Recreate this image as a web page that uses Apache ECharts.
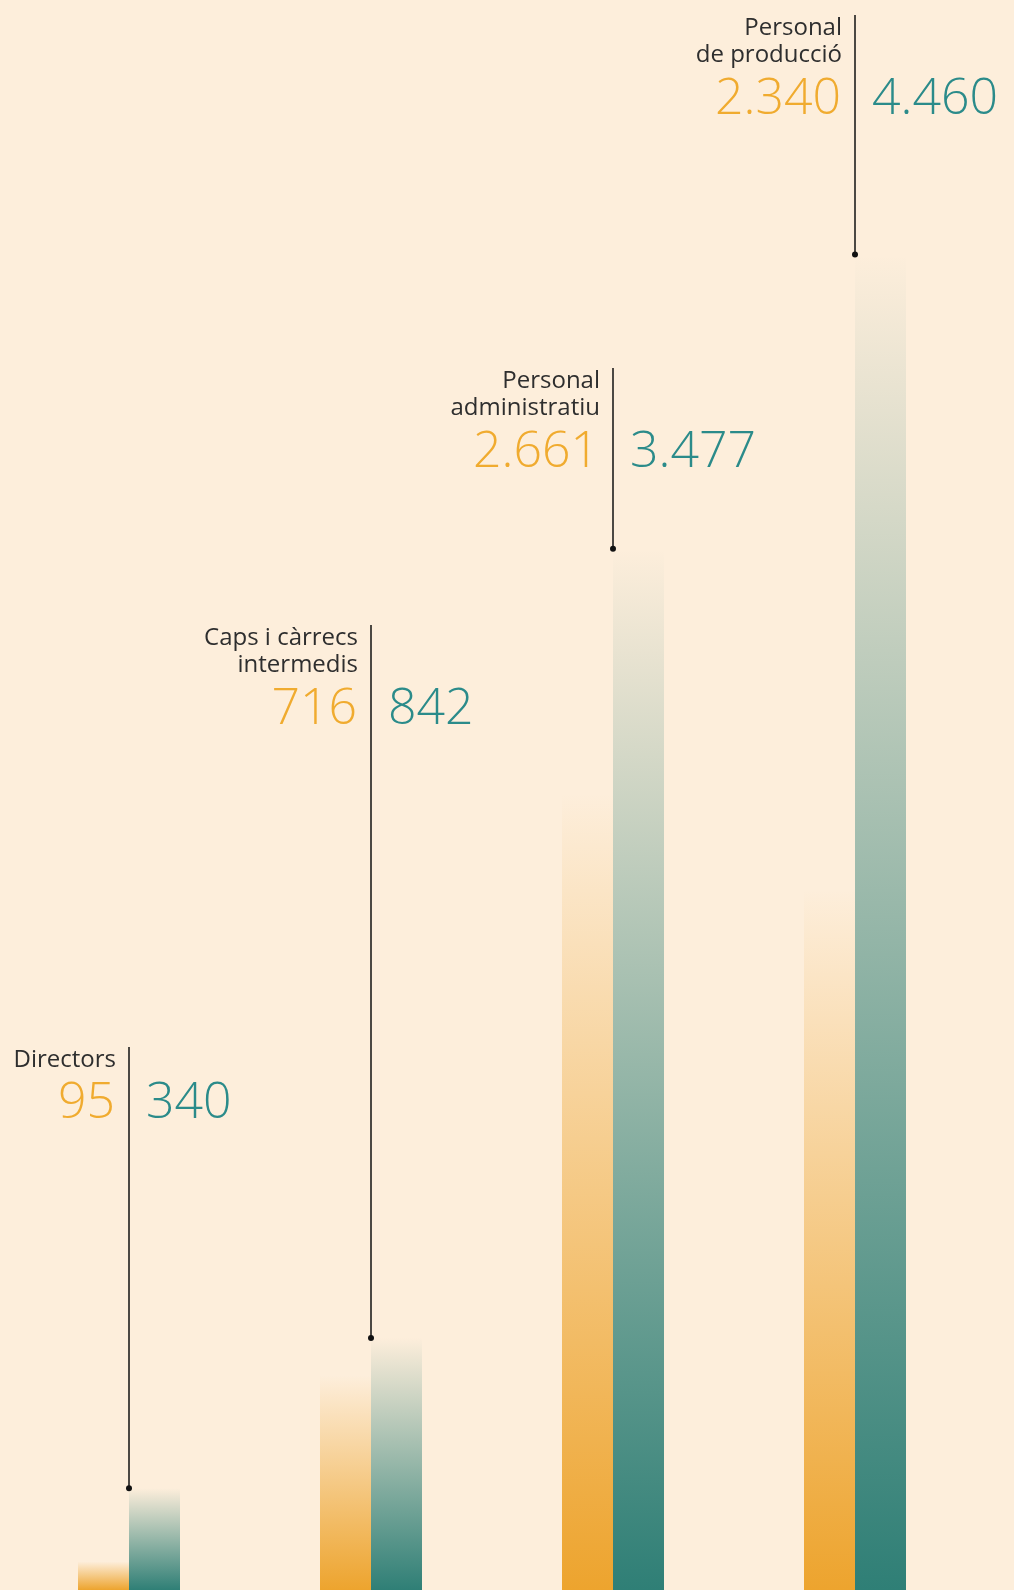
<!DOCTYPE html>
<html>
<head>
<meta charset="utf-8">
<script src="https://cdn.jsdelivr.net/npm/echarts@6/dist/echarts.min.js"></script>
<style>
  html, body { margin: 0; padding: 0; background: #fdeedb; }
  #chart { width: 1014px; height: 1590px; }
</style>
</head>
<body>
<div id="chart"></div>
<script>
// dades
const categories = ['Directors', 'Caps i càrrecs intermedis', 'Personal administratiu', 'Personal de producció']
const labelLines = [['Directors'], ['Caps i càrrecs', 'intermedis'], ['Personal', 'administratiu'], ['Personal', 'de producció']]
const orangeValues = [95, 716, 2661, 2340]
const tealValues = [340, 842, 3477, 4460]

// maquetació (px) de la part superior de cada línia guia
const labelTop = [1047, 625, 368, 15]

const ORANGE = '#eda42e'
const TEAL = '#2f7f76'
const ORANGE_TXT = '#f0ab2f'
const TEAL_TXT = '#2b8b8a'
const FONT = '"Open Sans", "Noto Sans", sans-serif'

const fmt = (v) => String(v).replace(/\B(?=(\d{3})+(?!\d))/g, '.')

const grad = (c) => new echarts.graphic.LinearGradient(0, 0, 0, 1, [
  { offset: 0, color: echarts.color.modifyAlpha(c, 0) },
  { offset: 1, color: echarts.color.modifyAlpha(c, 1) }
])

const myEcharts = echarts.init(document.getElementById('chart'))

const renderGuide = (params, api) => {
  const i = api.value(0)
  const pt = api.coord([i, api.value(1)])
  const x = pt[0]
  const top = labelTop[i]
  const lines = labelLines[i]
  const children = [
    {
      type: 'line',
      shape: { x1: x, y1: top, x2: x, y2: pt[1] },
      style: { stroke: '#111', lineWidth: 1.5 }
    },
    {
      type: 'circle',
      shape: { cx: x, cy: pt[1], r: 3 },
      style: { fill: '#111' }
    }
  ]
  lines.forEach((t, k) => {
    children.push({
      type: 'text',
      style: {
        x: x - 13, y: top + 13 + 27 * k,
        text: t, align: 'right', verticalAlign: 'middle',
        fontFamily: FONT, fontSize: 24, fontWeight: 400, fill: '#2e2e2e'
      }
    })
  })
  const numY = top + 57 + 28 * (lines.length - 1)
  children.push({
    type: 'text',
    style: {
      x: x - 14, y: numY,
      text: fmt(api.value(2)), align: 'right', verticalAlign: 'middle',
      fontFamily: FONT, fontSize: 50, fontWeight: 300, fill: ORANGE_TXT
    }
  })
  children.push({
    type: 'text',
    style: {
      x: x + 17, y: numY,
      text: fmt(api.value(1)), align: 'left', verticalAlign: 'middle',
      fontFamily: FONT, fontSize: 50, fontWeight: 300, fill: TEAL_TXT
    }
  })
  return { type: 'group', children }
}

myEcharts.setOption({
  backgroundColor: '#fdeedb',
  animation: false,
  grid: { left: 8, right: 38, top: 0, bottom: 0 },
  xAxis: {
    type: 'category',
    data: categories,
    axisLine: { show: false },
    axisTick: { show: false },
    axisLabel: { show: false }
  },
  yAxis: {
    type: 'value',
    min: 0,
    max: 5310,
    show: false,
    splitLine: { show: false }
  },
  series: [
    {
      name: 'orange',
      type: 'bar',
      barWidth: 51,
      barGap: '0%',
      itemStyle: { color: grad(ORANGE) },
      data: orangeValues
    },
    {
      name: 'teal',
      type: 'bar',
      barWidth: 51,
      itemStyle: { color: grad(TEAL) },
      data: tealValues
    },
    {
      type: 'custom',
      silent: true,
      clip: false,
      z: 10,
      renderItem: renderGuide,
      data: categories.map((c, i) => [i, tealValues[i], orangeValues[i]])
    }
  ]
})
</script>
</body>
</html>
